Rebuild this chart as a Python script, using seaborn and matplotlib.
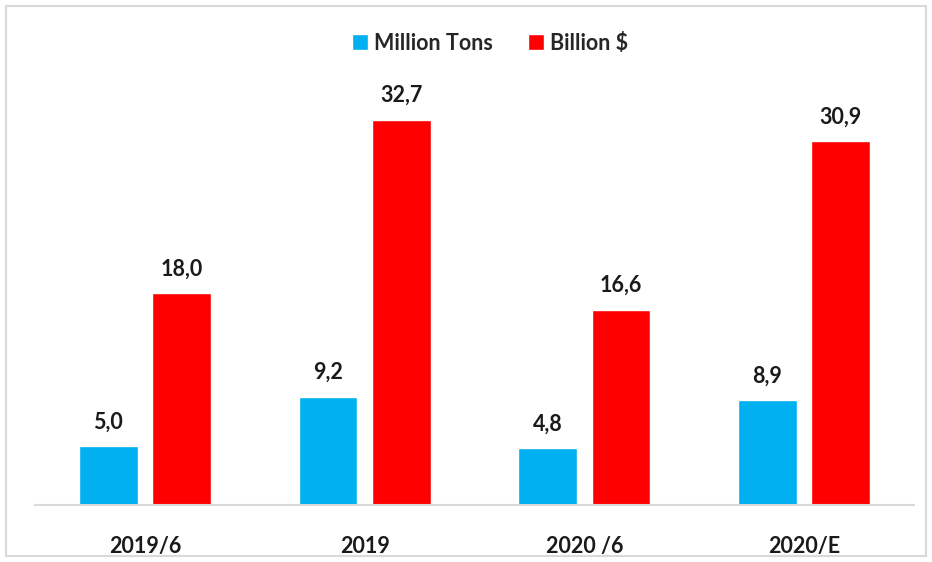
import pandas as pd
import matplotlib.pyplot as plt
import seaborn as sns
from matplotlib.patches import Rectangle

periods = ["2019/6", "2019", "2020 /6", "2020/E"]
million_tons = [5.0, 9.2, 4.8, 8.9]
billion_usd = [18.0, 32.7, 16.6, 30.9]
series_names = ["Million Tons", "Billion $"]
colors = ["#00B0F0", "#FF0000"]

df = pd.DataFrame({
    "period": periods * 2,
    "series": [series_names[0]] * len(periods) + [series_names[1]] * len(periods),
    "value": million_tons + billion_usd,
})

sns.set_style("white")
plt.rcParams['font.family'] = ['Lato', 'DejaVu Sans']
plt.rcParams['font.weight'] = 'bold'

fig = plt.figure(figsize=(9.32, 5.62), dpi=100)
ax = fig.add_axes([35 / 932, 57 / 562, 879 / 932, 412 / 562])

sns.barplot(data=df, x="period", y="value", hue="series", order=periods,
            hue_order=series_names, palette=colors, width=0.668, gap=0.2,
            saturation=1, ax=ax, legend=True)

for container in ax.containers:
    labels = [f"{b.get_height():.1f}".replace('.', ',') for b in container]
    ax.bar_label(container, labels=labels, padding=10, fontsize=15.5,
                 fontweight='bold', color='#1a1a1a')

ax.set_ylim(0, 35)
ax.set_xlim(-0.5, 3.5)
ax.set_xlabel("")
ax.set_ylabel("")
ax.set_yticks([])
for side in ["left", "right", "top"]:
    ax.spines[side].set_visible(False)
ax.spines["bottom"].set_color("#D9D9D9")
ax.spines["bottom"].set_linewidth(1.5)
ax.tick_params(axis='x', length=0, pad=22, labelsize=15.5)
for lbl in ax.get_xticklabels():
    lbl.set_fontweight('bold')
    lbl.set_color('#1a1a1a')

handles, labels = ax.get_legend_handles_labels()
ax.get_legend().remove()
fig.legend(handles, labels, loc='center', bbox_to_anchor=(490 / 932, 1 - 43 / 562),
           ncol=2, frameon=False, handlelength=0.75, handleheight=0.75,
           handletextpad=0.3, columnspacing=1.6,
           prop={'size': 15.5, 'weight': 'bold'})

fig.patches.append(Rectangle((6 / 932, 6 / 562), 920 / 932, 550 / 562,
                             transform=fig.transFigure, fill=False,
                             edgecolor='#D9D9D9', linewidth=1.5))

fig.savefig("out.png", dpi=100)
